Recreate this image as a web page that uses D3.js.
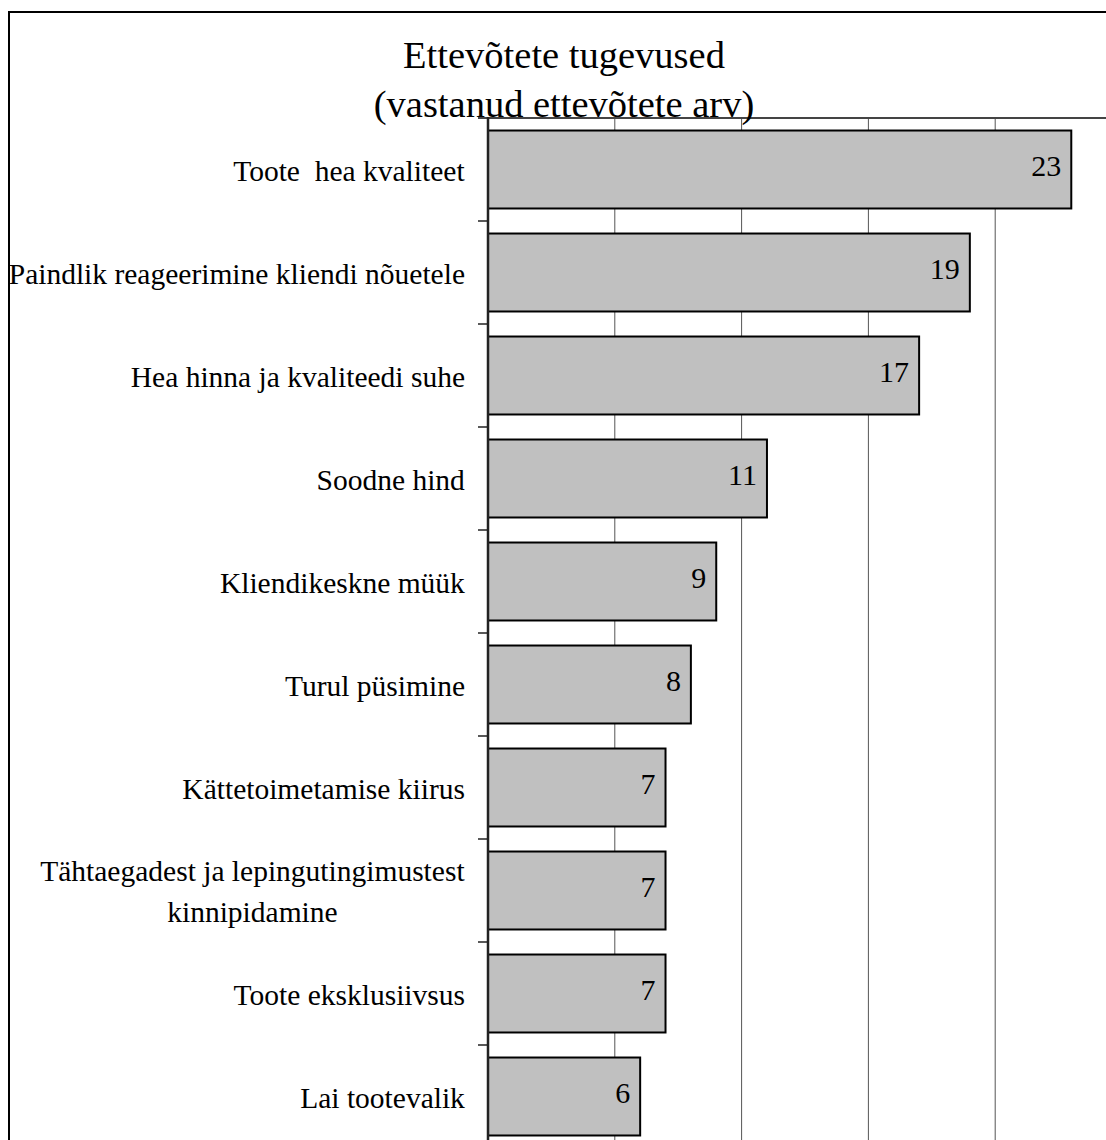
<!DOCTYPE html>
<html>
<head>
<meta charset="utf-8">
<script src="https://cdn.jsdelivr.net/npm/d3@7"></script>
<style>
  html, body { margin: 0; padding: 0; background: #fff; }
  svg { display: block; }
  text { font-family: "Liberation Serif", "Times New Roman", serif; fill: #000; white-space: pre; }
</style>
</head>
<body>
<div id="chart"></div>
<script>
// chart data
const categories = [
  'Toote  hea kvaliteet',
  'Paindlik reageerimine kliendi nõuetele',
  'Hea hinna ja kvaliteedi suhe',
  'Soodne hind',
  'Kliendikeskne müük',
  'Turul püsimine',
  'Kättetoimetamise kiirus',
  'Tähtaegadest ja lepingutingimustest\nkinnipidamine',
  'Toote eksklusiivsus',
  'Lai tootevalik'
];
const values = [23, 19, 17, 11, 9, 8, 7, 7, 7, 6];
const gridTicks = [5, 10, 15, 20, 25];
const titleLines = ['Ettevõtete tugevused', '(vastanud ettevõtete arv)'];

const width = 1106, height = 1140;
const plot = { left: 488, top: 118, width: 634, height: 1030 };

const svg = d3.select('#chart').append('svg')
  .attr('width', width)
  .attr('height', height);

// outer chart frame (runs off the right and bottom edges)
svg.append('rect')
  .attr('x', 9).attr('y', 12)
  .attr('width', 1120).attr('height', 1160)
  .attr('fill', 'none')
  .attr('stroke', '#000')
  .attr('stroke-width', 2);

const x = d3.scaleLinear()
  .domain([0, 25])
  .range([plot.left, plot.left + plot.width]);

const y = d3.scaleBand()
  .domain(categories)
  .range([plot.top, plot.top + plot.height])
  .paddingInner(0.243)
  .paddingOuter(0.1215);

const gap = (y.step() - y.bandwidth()) / 2;

// vertical gridlines
svg.append('g').selectAll('line')
  .data(gridTicks)
  .enter().append('line')
  .attr('x1', d => x(d)).attr('x2', d => x(d))
  .attr('y1', plot.top - 1).attr('y2', plot.top + plot.height)
  .attr('stroke', '#555')
  .attr('stroke-width', 1);

// plot area top border
svg.append('line')
  .attr('x1', plot.left - 10).attr('x2', plot.left + plot.width)
  .attr('y1', plot.top).attr('y2', plot.top)
  .attr('stroke', '#444')
  .attr('stroke-width', 2);

// category ticks between the bands
svg.append('g').selectAll('line')
  .data(categories)
  .enter().append('line')
  .attr('x1', plot.left - 10).attr('x2', plot.left)
  .attr('y1', d => y(d) - gap + y.step()).attr('y2', d => y(d) - gap + y.step())
  .attr('stroke', '#222')
  .attr('stroke-width', 1.5);

// bars
const rows = categories.map((c, i) => ({ label: c, value: values[i] }));

svg.append('g').selectAll('rect')
  .data(rows)
  .enter().append('rect')
  .attr('x', x(0))
  .attr('y', d => y(d.label))
  .attr('width', d => x(d.value) - x(0))
  .attr('height', y.bandwidth())
  .attr('fill', '#c0c0c0')
  .attr('stroke', '#000')
  .attr('stroke-width', 2);

// left axis line
svg.append('line')
  .attr('x1', plot.left).attr('x2', plot.left)
  .attr('y1', plot.top - 1).attr('y2', plot.top + plot.height)
  .attr('stroke', '#222')
  .attr('stroke-width', 2.5);

// value labels inside bar ends
svg.append('g').selectAll('text')
  .data(rows)
  .enter().append('text')
  .attr('x', d => x(d.value) - 10)
  .attr('y', d => y(d.label) + y.bandwidth() / 2 + 6)
  .attr('text-anchor', 'end')
  .style('font-size', '30px')
  .text(d => d.value);

// category labels, multi-line ones centred in a right-aligned block
const lineGap = 41;
const labels = svg.append('g').selectAll('text')
  .data(rows)
  .enter().append('text')
  .attr('text-anchor', 'middle')
  .style('font-size', '29.5px');

labels.each(function(d) {
  const lines = d.label.split('\n');
  const mid = y(d.label) + y.bandwidth() / 2 + 11;
  const t = d3.select(this);
  lines.forEach((ln, i) => {
    t.append('tspan')
      .attr('x', 0)
      .attr('y', mid + (i - (lines.length - 1) / 2) * lineGap)
      .text(ln);
  });
  const w = this.getBBox().width;
  t.selectAll('tspan').attr('x', plot.left - 23 - w / 2);
});

// title
svg.append('g').selectAll('text')
  .data(titleLines)
  .enter().append('text')
  .attr('x', 564)
  .attr('y', (d, i) => 68 + i * 49)
  .attr('text-anchor', 'middle')
  .style('font-size', '38.5px')
  .text(d => d);
</script>
</body>
</html>
